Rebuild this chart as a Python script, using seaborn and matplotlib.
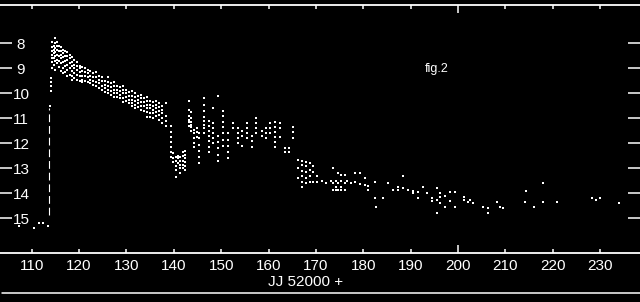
import matplotlib
matplotlib.use("Agg")
import matplotlib.pyplot as plt
from matplotlib.lines import Line2D
import seaborn as sns
import pandas as pd

# ---------------- data ----------------
quiet_jd = [107.3, 110.5, 111.5, 112.4, 113.4]
quiet_mag = [15.31, 15.39, 15.19, 15.19, 15.31]

rise_jd = [113.7, 113.7]
rise_mag = [14.85, 10.6]

# (JD - 2452000, list of magnitudes observed on that date)
decline_cols = [
    (113.85, [10.5]),
    (114.0, [9.4, 9.55, 9.7, 9.9]),
    (114.3, [7.95, 8.15, 8.3, 8.45, 8.6, 8.75, 9.0]),
    (114.6, [8.1, 8.25, 8.4, 8.6, 8.85]),
    (114.9, [7.8, 8.0, 8.2, 8.35, 8.5, 8.7, 9.05]),
    (115.3, [7.95, 8.1, 8.25, 8.45, 8.65, 8.8]),
    (115.75, [8.1, 8.3, 8.5, 8.7, 8.95]),
    (116.2, [8.15, 8.3, 8.45, 8.6, 8.8, 9.1]),
    (116.6, [8.25, 8.4, 8.55, 8.75, 9.0, 9.2]),
    (117.0, [8.3, 8.5, 8.7, 8.9, 9.15]),
    (117.45, [8.35, 8.5, 8.65, 8.85, 9.05, 9.3]),
    (118.0, [8.45, 8.6, 8.8, 9.0, 9.25]),
    (118.5, [8.55, 8.75, 8.9, 9.1, 9.3, 9.45]),
    (119.0, [8.65, 8.85, 9.0, 9.2, 9.4]),
    (119.55, [8.75, 8.9, 9.05, 9.25, 9.45]),
    (120.2, [8.9, 9.0, 9.15, 9.3, 9.5]),
    (120.7, [8.95, 9.1, 9.3, 9.45, 9.55]),
    (121.2, [9.0, 9.15, 9.3, 9.5]),
    (121.8, [9.05, 9.2, 9.35, 9.55]),
    (122.3, [9.1, 9.3, 9.45, 9.6]),
    (122.9, [9.2, 9.35, 9.5, 9.65]),
    (123.6, [9.15, 9.35, 9.55, 9.7]),
    (124.2, [9.3, 9.45, 9.6, 9.8]),
    (124.8, [9.35, 9.5, 9.7, 9.85]),
    (125.5, [9.5, 9.65, 9.8, 9.95]),
    (126.1, [9.35, 9.55, 9.7, 9.85, 10.0]),
    (126.7, [9.6, 9.75, 9.9, 10.05]),
    (127.4, [9.55, 9.7, 9.85, 10.0, 10.15]),
    (128.0, [9.7, 9.85, 10.0, 10.15]),
    (128.6, [9.75, 9.9, 10.05, 10.2]),
    (129.3, [9.7, 9.85, 10.0, 10.2, 10.35]),
    (129.9, [9.85, 10.0, 10.15, 10.3]),
    (130.5, [9.95, 10.1, 10.25, 10.4]),
    (131.2, [9.9, 10.1, 10.25, 10.4, 10.5]),
    (131.8, [10.0, 10.15, 10.3, 10.45, 10.6]),
    (132.4, [10.1, 10.25, 10.4, 10.55]),
    (133.1, [10.05, 10.2, 10.35, 10.5, 10.65]),
    (133.7, [10.2, 10.35, 10.5, 10.7]),
    (134.3, [10.15, 10.3, 10.45, 10.6, 10.75, 10.95]),
    (135.0, [10.3, 10.45, 10.6, 10.8, 10.95]),
    (135.6, [10.35, 10.5, 10.65, 10.8, 11.0]),
    (136.2, [10.3, 10.45, 10.6, 10.75, 10.9]),
    (136.9, [10.4, 10.55, 10.7, 10.85, 11.05]),
    (137.5, [10.5, 10.65, 10.8, 11.0, 11.2]),
    (138.3, [10.4, 10.9, 11.1, 11.3]),
]

plateau_cols = [
    (139.4, [11.3, 11.55, 11.75, 11.95, 12.15, 12.35, 12.55]),
    (139.8, [12.4, 12.6, 12.75]),
    (140.5, [12.55, 12.7, 12.9, 13.05, 13.35]),
    (140.9, [12.5, 12.6, 12.8]),
    (141.3, [12.55, 12.7, 12.85, 13.0, 13.2]),
    (141.9, [12.35, 12.5, 12.7, 12.85, 13.0]),
    (142.4, [12.3, 12.45, 12.6, 12.75, 12.9, 13.05]),
    (143.2, [10.3, 10.65, 10.9, 11.05, 11.15, 11.3]),
    (143.6, [10.75, 11.0, 11.15, 11.25, 11.35, 11.5]),
    (144.3, [11.45, 11.6, 11.8, 12.0, 12.15]),
    (144.9, [11.4, 11.55, 11.75]),
    (145.4, [11.6, 11.8, 12.05, 12.3, 12.55, 12.8]),
    (146.3, [10.2, 10.45, 10.7, 10.95, 11.1, 11.25, 11.4, 11.6]),
    (147.5, [11.1, 11.3, 11.5, 11.7, 11.9, 12.15, 12.35]),
    (148.3, [10.6, 11.2, 11.4, 11.6, 11.8, 12.0]),
    (149.3, [10.1, 11.7, 11.95, 12.2, 12.45, 12.7]),
    (150.4, [10.7, 10.9, 11.15, 11.35, 11.6, 11.85, 12.1]),
    (151.4, [11.6, 11.85, 12.1, 12.35, 12.6]),
    (152.5, [11.2, 11.4]),
    (153.5, [11.4, 11.6, 11.8, 12.0]),
    (154.4, [11.5, 11.7, 12.1]),
    (155.4, [11.2, 11.4, 11.6, 11.8]),
    (156.5, [11.7, 11.9, 12.15]),
    (157.3, [11.0, 11.2, 11.4, 11.6]),
    (158.6, [11.5, 11.7]),
    (159.5, [11.4, 11.6, 11.8]),
    (160.3, [11.2, 11.4, 11.6]),
    (161.4, [11.15, 11.35, 11.55, 11.75, 11.95, 12.15]),
    (162.4, [11.2, 11.4, 11.75]),
    (163.5, [12.2, 12.35]),
    (164.3, [12.2, 12.35]),
    (165.2, [11.35, 11.55, 11.8]),
]

tail_cols = [
    (166.3, [12.65, 13.0, 13.4]),
    (167.0, [12.7, 12.85, 13.1, 13.3, 13.55, 13.75]),
    (167.8, [12.75, 12.9, 13.15, 13.4, 13.6]),
    (168.7, [12.8, 13.05, 13.3, 13.55]),
    (169.4, [12.9, 13.15, 13.55]),
    (170.3, [13.3, 13.55]),
    (171.3, [13.5]),
    (172.2, [13.6]),
    (173.1, [13.5]),
    (173.6, [12.99, 13.6, 13.87]),
    (174.2, [13.5, 13.75, 13.87]),
    (174.7, [13.2, 13.6, 13.87]),
    (175.3, [13.25, 13.5, 13.75, 13.87]),
    (176.1, [13.27, 13.6, 13.87]),
    (176.6, [13.5]),
    (177.3, [13.6]),
    (178.2, [13.2, 13.55]),
    (179.3, [13.2, 13.62]),
    (180.4, [13.39, 13.65]),
    (181.0, [13.7, 13.85]),
    (182.5, [13.55, 14.19]),
    (182.7, [14.55]),
    (184.1, [14.19]),
    (185.2, [13.59]),
    (186.3, [13.87]),
    (187.3, [13.75, 13.87]),
    (188.4, [13.3, 13.8]),
    (189.4, [13.85]),
    (190.5, [13.9, 14.0]),
    (191.5, [13.95, 14.19]),
    (192.6, [13.75]),
    (193.4, [13.99]),
    (194.5, [14.19, 14.3]),
    (195.6, [13.79, 14.27, 14.79]),
    (196.2, [13.99, 14.15, 14.4]),
    (197.2, [14.1, 14.55]),
    (198.3, [13.95, 14.3]),
    (199.4, [13.95, 14.55]),
    (201.3, [14.15, 14.27]),
    (202.0, [14.35]),
    (202.5, [14.27]),
    (203.1, [14.4]),
    (205.3, [14.55]),
    (206.3, [14.6, 14.79]),
    (208.2, [14.35]),
    (208.9, [14.55]),
    (209.5, [14.6]),
    (214.1, [14.35]),
    (214.3, [13.91]),
    (216.0, [14.55]),
    (217.9, [13.59, 14.35]),
    (220.9, [14.35]),
    (228.3, [14.19]),
    (229.1, [14.27]),
    (230.0, [14.19]),
    (234.0, [14.39]),
]

x_ticks = [110, 120, 130, 140, 150, 160, 170, 180, 190, 200, 210, 220, 230]
y_ticks = [8, 9, 10, 11, 12, 13, 14, 15]
x_label = "JJ 52000 +"
note_text = "fig.2"
note_jd, note_mag = 195.5, 9.03

# ---------------- build table ----------------
rows = [(j, m) for j, m in zip(quiet_jd, quiet_mag)]
for cols in (decline_cols, plateau_cols, tail_cols):
    for j, mags in cols:
        rows.extend((j, m) for m in mags)
df = pd.DataFrame(rows, columns=["jd", "mag"])

# ---------------- style ----------------
sns.set_theme(style="dark")
FONT = ["Liberation Sans Narrow", "Liberation Sans", "DejaVu Sans"]
plt.rcParams["font.family"] = FONT
plt.rcParams["text.color"] = "white"
plt.rcParams["axes.labelcolor"] = "white"

DPI = 100
fig = plt.figure(figsize=(640 / DPI, 302 / DPI), dpi=DPI, facecolor="black")
ax = fig.add_axes([0.0, (302 - 253) / 302, 1.0, (253 - 4.5) / 302])
ax.set_facecolor("black")

sns.scatterplot(data=df, x="jd", y="mag", color="white", s=1.1, marker="s",
                linewidth=0, legend=False, ax=ax)
ax.plot(rise_jd, rise_mag, color="white", lw=0.8, dashes=(7, 3.5))

ax.set_xlim(103.3, 238.4)
ax.set_ylim(16.39, 6.45)
ax.grid(False)

for side in ("left", "right"):
    ax.spines[side].set_visible(False)
for side in ("top", "bottom"):
    ax.spines[side].set_visible(True)
    ax.spines[side].set_color("white")
    ax.spines[side].set_linewidth(1.3)

ax.set_xticks(x_ticks)
ax.set_xticklabels([str(v) for v in x_ticks])
ax.set_yticks(y_ticks)
ax.set_yticklabels([str(v) for v in y_ticks])

ax.tick_params(axis="x", which="major", direction="in", top=True, bottom=True,
               length=2.9, width=1.1, color="white", labelcolor="white",
               labelsize=11, pad=4)
ax.tick_params(axis="y", which="major", direction="in", left=True, right=True,
               length=8.3, width=1.1, color="white", labelcolor="white",
               labelsize=11, pad=-15.1)
for lab in ax.get_yticklabels():
    lab.set_ha("center")

ax.set_xlabel(x_label, fontsize=11, color="white", va="center")
ax.xaxis.set_label_coords(306 / 640, (253 - 282) / 248.5)
ax.set_ylabel("")

ax.text(note_jd, note_mag, note_text, fontsize=9, color="white",
        ha="center", va="center")

fig.add_artist(Line2D([2 / 640, 1.0], [1 - 293 / 302, 1 - 293 / 302],
                      transform=fig.transFigure, color="white", lw=1.1))

for t, v in zip(ax.xaxis.get_major_ticks(), x_ticks):
    if v == 200:
        t.tick1line.set_markersize(5.8)
        t.tick2line.set_markersize(5.8)

fig.savefig("out.png", dpi=DPI, facecolor="black")
